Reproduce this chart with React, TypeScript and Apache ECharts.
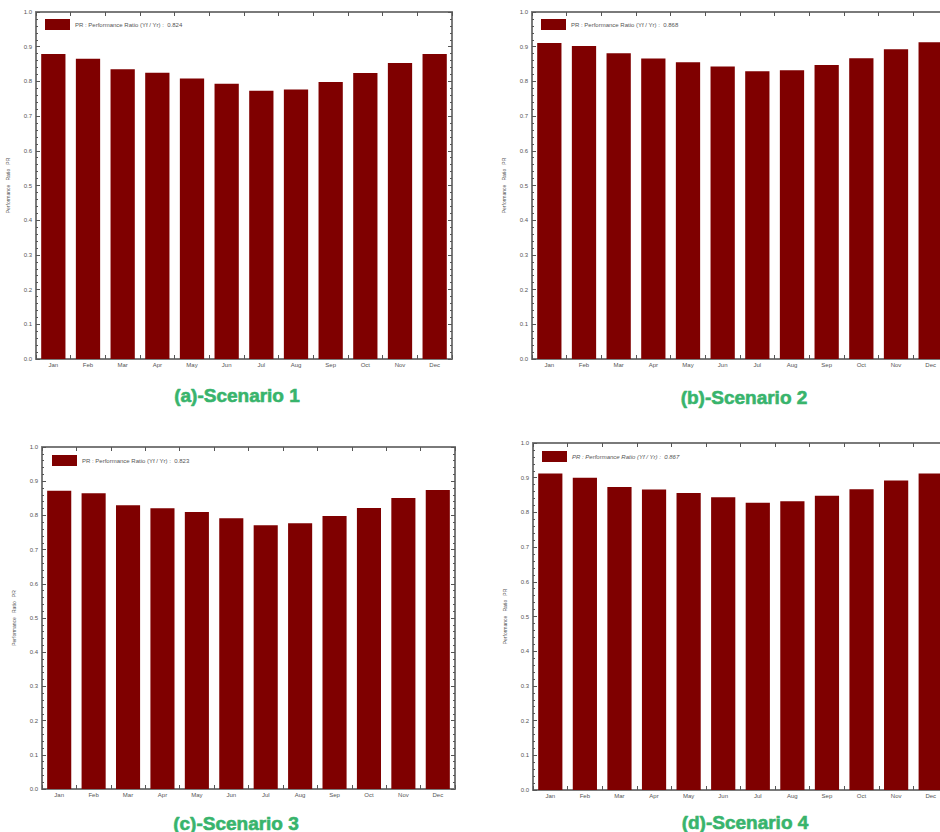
import React, { useEffect, useRef } from "react";
import * as echarts from "echarts";

// Month labels shared by all four panels
const months = ["Jan", "Feb", "Mar", "Apr", "May", "Jun", "Jul", "Aug", "Sep", "Oct", "Nov", "Dec"];

// Monthly performance ratio per scenario
const scenario1 = [0.879, 0.865, 0.835, 0.825, 0.808, 0.793, 0.773, 0.777, 0.798, 0.824, 0.853, 0.879];
const scenario2 = [0.911, 0.902, 0.881, 0.866, 0.855, 0.843, 0.829, 0.832, 0.847, 0.867, 0.893, 0.913];
const scenario3 = [0.872, 0.865, 0.830, 0.821, 0.810, 0.792, 0.771, 0.777, 0.798, 0.822, 0.851, 0.874];
const scenario4 = [0.912, 0.900, 0.873, 0.866, 0.856, 0.844, 0.828, 0.832, 0.848, 0.867, 0.892, 0.912];

// Annual performance ratio shown in each legend
const annualPR = ["0.824", "0.868", "0.823", "0.867"];

// Panel captions
const captions = ["(a)-Scenario 1", "(b)-Scenario 2", "(c)-Scenario 3", "(d)-Scenario 4"];

const yTicks = [0, 0.1, 0.2, 0.3, 0.4, 0.5, 0.6, 0.7, 0.8, 0.9, 1.0];

const FONT = "Liberation Sans, Arial, sans-serif";
const BAR = "#7f0000";
const FRAME = "#7a7a7a";
const TICK = "#555555";

export default function App() {
  const ref = useRef<HTMLDivElement>(null);

  useEffect(() => {
    if (!ref.current) return;
    const chart = echarts.init(ref.current, undefined, { renderer: "svg" });

    const values = [scenario1, scenario2, scenario3, scenario4];
    const grids = [
      { left: 36, top: 12, right: 508, bottom: 473 },
      { left: 532, top: 12, right: 12, bottom: 473 },
      { left: 42, top: 447, right: 505, bottom: 43 },
      { left: 533, top: 443, right: 12, bottom: 42 },
    ];
    const legendPos = [
      { left: 45, top: 19 },
      { left: 541, top: 19 },
      { left: 52, top: 455 },
      { left: 542, top: 451 },
    ];
    const captionPos = [
      { x: 237, y: 395 },
      { x: 744, y: 397 },
      { x: 236, y: 823 },
      { x: 745, y: 822 },
    ];

    const names = annualPR.map((v) => `PR : Performance Ratio (Yf / Yr) :  ${v}`);

    const xAxes: any[] = [];
    const yAxes: any[] = [];
    const series: any[] = [];
    const legends: any[] = [];

    values.forEach((vals, i) => {
      const axisLine = { show: true, onZero: false, lineStyle: { color: FRAME, width: 2 } };
      xAxes.push({
        type: "category",
        gridIndex: i,
        position: "bottom",
        data: months,
        boundaryGap: true,
        axisLine,
        axisTick: { show: true, inside: true, length: 4, alignWithLabel: false, lineStyle: { color: TICK } },
        axisLabel: { fontSize: 6, color: TICK, fontFamily: FONT, margin: 3 },
      });
      xAxes.push({
        type: "category",
        gridIndex: i,
        position: "top",
        data: months,
        boundaryGap: true,
        axisLine,
        axisTick: { show: true, inside: true, length: 4, lineStyle: { color: TICK } },
        axisLabel: { show: false },
      });
      const yCommon = {
        type: "value",
        gridIndex: i,
        min: 0,
        max: 1,
        interval: 0.1,
        splitLine: { show: false },
        axisLine,
        axisTick: { show: true, inside: true, length: 4, lineStyle: { color: TICK } },
        minorTick: { show: true, splitNumber: 5, length: 2, lineStyle: { color: TICK } },
      };
      yAxes.push({
        ...yCommon,
        position: "left",
        name: "Performance   Ratio   PR",
        nameLocation: "middle",
        nameGap: 26,
        nameRotate: 90,
        nameTextStyle: { fontSize: 5, color: TICK, fontFamily: FONT },
        axisLabel: {
          fontSize: 6,
          color: TICK,
          fontFamily: FONT,
          margin: 4,
          formatter: (v: number) => (yTicks.some((t) => Math.abs(t - v) < 1e-6) ? v.toFixed(1) : ""),
        },
      });
      yAxes.push({
        ...yCommon,
        position: "right",
        axisLabel: { show: false },
      });
      series.push({
        type: "bar",
        name: names[i],
        xAxisIndex: 2 * i,
        yAxisIndex: 2 * i,
        data: vals,
        barCategoryGap: "30%",
        itemStyle: { color: BAR },
      });
      legends.push({
        data: [names[i]],
        left: legendPos[i].left,
        top: legendPos[i].top,
        padding: 0,
        itemWidth: 25,
        itemHeight: 11,
        icon: "rect",
        textStyle: {
          fontSize: 6,
          color: TICK,
          fontFamily: FONT,
          fontStyle: i === 3 ? "italic" : "normal",
        },
      });
    });

    chart.setOption({
      animation: false,
      backgroundColor: "#ffffff",
      grid: grids.map((g) => ({ ...g, containLabel: false })),
      xAxis: xAxes,
      yAxis: yAxes,
      legend: legends,
      series,
      graphic: captions.map((c, i) => ({
        type: "text",
        x: captionPos[i].x,
        y: captionPos[i].y,
        style: {
          text: c,
          fill: "#38b46c",
          stroke: "#38b46c",
          lineWidth: 0.6,
          font: `bold 19px ${FONT}`,
          textAlign: "center",
          textVerticalAlign: "middle",
        },
      })),
    });

    return () => chart.dispose();
  }, []);

  return (
    <div
      style={{
        position: "fixed",
        left: 0,
        top: 0,
        width: 940,
        height: 832,
        overflow: "hidden",
        background: "#ffffff",
      }}
    >
      <div ref={ref} style={{ width: 960, height: 832 }} />
    </div>
  );
}
